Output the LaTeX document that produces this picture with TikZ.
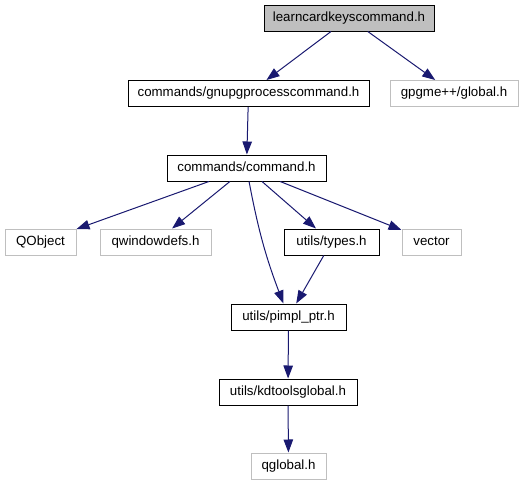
\documentclass[tikz,border=0pt]{standalone}
\usepackage{fontspec}
\setmainfont{Liberation Sans}
\usetikzlibrary{arrows.meta}
\definecolor{edgeblue}{RGB}{25,25,112}
\definecolor{extgray}{RGB}{191,191,191}
\definecolor{curfill}{RGB}{191,191,191}
\tikzset{
  box/.style={draw=black, line width=1pt, inner sep=0pt, minimum height=26pt,
    text height=9.6pt, text depth=2.8pt, font=\fontsize{13.3pt}{15pt}\selectfont},
  intbox/.style={box, fill=white},
  extbox/.style={box, draw=extgray, fill=white},
  curbox/.style={box, fill=curfill},
  dep/.style={draw=edgeblue, line width=1pt, -{Triangle[length=13pt,width=9.5pt]}, edgeblue}
}
\begin{document}
\begin{tikzpicture}[x=1pt,y=-1pt]
\useasboundingbox (0,0) rectangle (523,485);
\node[curbox, minimum width=170pt] (learn) at (349,18) {learncardkeyscommand.h};
\node[intbox, minimum width=241pt] (gnupg) at (248.5,93.5) {commands/gnupgprocesscommand.h};
\node[extbox, minimum width=128pt] (gpgme) at (454,93.5) {gpgme++/global.h};
\node[intbox, minimum width=159pt] (cmd) at (246.5,168) {commands/command.h};
\node[extbox, minimum width=71pt] (qobj) at (40.5,242) {QObject};
\node[extbox, minimum width=111pt] (qwin) at (155.5,242) {qwindowdefs.h};
\node[intbox, minimum width=95pt] (types) at (331.5,242) {utils/types.h};
\node[extbox, minimum width=59pt] (vec) at (431.5,242) {vector};
\node[intbox, minimum width=115pt] (pimpl) at (288.5,317) {utils/pimpl\_ptr.h};
\node[intbox, minimum width=138pt] (kdt) at (288,392) {utils/kdtoolsglobal.h};
\node[extbox, minimum width=75pt] (qglob) at (288.5,466) {qglobal.h};

\draw[dep] (learn) -- (gnupg);
\draw[dep] (learn) -- (gpgme);
\draw[dep] (gnupg) -- (cmd);
\draw[dep] (cmd) -- (qobj);
\draw[dep] (cmd) -- (qwin);
\draw[dep] (cmd) -- (types);
\draw[dep] (cmd) -- (vec);
\draw[dep] (cmd) to[bend right=5] (pimpl);
\draw[dep] (types) -- (pimpl);
\draw[dep] (pimpl) -- (kdt);
\draw[dep] (kdt) -- (qglob);
\end{tikzpicture}
\end{document}
